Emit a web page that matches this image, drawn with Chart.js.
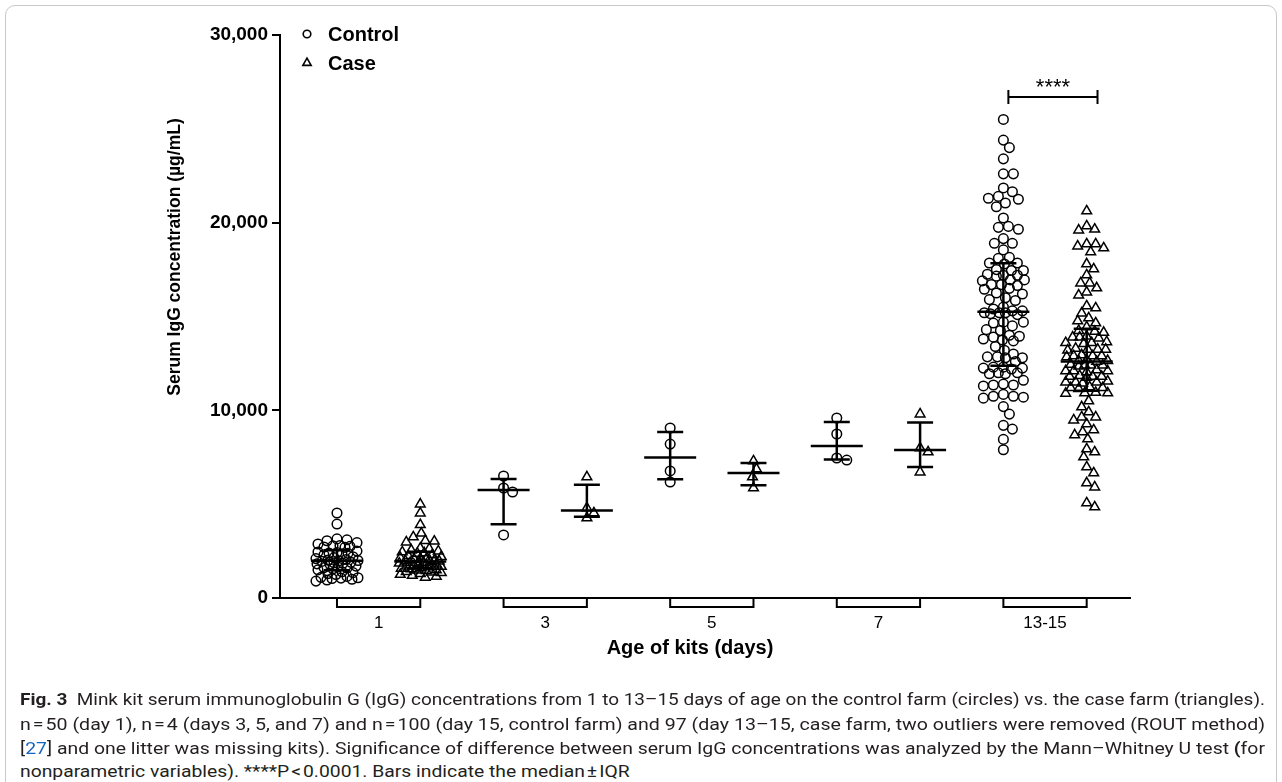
<!doctype html>
<html lang="en">
<head>
<meta charset="utf-8">
<title>Mink kit serum IgG</title>
<style>
  body { margin: 0; background: #fff; overflow: hidden; }
  #frame { position: absolute; left: 5px; top: 5px; width: 1270px; height: 800px;
           border: 1px solid #c8c8c8; border-radius: 10px; }
  #wrap { position: absolute; left: 0; top: 0; width: 1282px; height: 690px; }
  .cap { position: absolute; left: 20px; white-space: nowrap; line-height: 20px;
         font-family: Roboto, "Liberation Sans", sans-serif; font-size: 17px; color: #231f20;
         transform-origin: 0 0; }
  .cap a { color: #1565c0; text-decoration: none; }
</style>
</head>
<body>
<div id="frame"></div>
<div id="wrap"><canvas id="chart" width="1282" height="690"></canvas></div>

<div class="cap" id="c1" style="top:689px"><b>Fig. 3</b>&nbsp; Mink kit serum immunoglobulin G (IgG) concentrations from 1 to 13–15 days of age on the control farm (circles) vs. the case farm (triangles).</div>
<div class="cap" id="c2" style="top:714px">n&#8202;=&#8202;50 (day 1), n&#8202;=&#8202;4 (days 3, 5, and 7) and n&#8202;=&#8202;100 (day 15, control farm) and 97 (day 13–15, case farm, two outliers were removed (ROUT method)</div>
<div class="cap" id="c3" style="top:738px">[<a>27</a>] and one litter was missing kits). Significance of difference between serum IgG concentrations was analyzed by the Mann–Whitney U test <b>(</b>for</div>
<div class="cap" id="c4" style="top:761px">nonparametric variables). ****P&#8202;&lt;&#8202;0.0001. Bars indicate the median&#8202;±&#8202;IQR</div>

<script src="https://cdn.jsdelivr.net/npm/chart.js@4.4.1/dist/chart.umd.min.js"></script>
<script>
// values (µg/mL)
const ageGroups = ['1', '3', '5', '7', '13-15'];
const seriesNames = ['Control', 'Case'];
const significance = '****';

const controlDay1 = [4530, 3940, 3150, 3100, 3050, 2950, 2880, 2800, 2780, 2750,
  2720, 2700, 2500, 2450, 2420, 2400, 2380, 2350, 2300, 2200,
  2150, 2100, 2050, 2020, 2000, 1980, 1950, 1900, 1880, 1850,
  1820, 1800, 1700, 1650, 1620, 1600, 1560, 1500, 1400, 1350,
  1300, 1250, 1150, 1100, 1080, 1060, 1040, 1000, 960, 900];
const caseDay1 = [5000, 4520, 3900, 3450, 3250, 3050, 3020, 2980, 2650, 2620,
  2550, 2500, 2450, 2400, 2380, 2300, 2250, 2200, 2150, 2100,
  2080, 2050, 2000, 1980, 1960, 1940, 1900, 1880, 1850, 1820,
  1800, 1780, 1750, 1700, 1680, 1650, 1600, 1580, 1550, 1500,
  1480, 1450, 1400, 1380, 1350, 1300, 1250, 1200, 1150, 1100];
const controlDay3 = [6500, 5860, 5650, 3360];
const caseDay3 = [6450, 4800, 4530, 4260];
const controlDay5 = [9060, 8200, 6770, 6180];
const caseDay5 = [7300, 6870, 6450, 5860];
const controlDay7 = [9590, 8740, 7460, 7350];
const caseDay7 = [9800, 7990, 7780, 6710];
const controlDay13to15 = [25500, 24400, 24000, 23400, 22600, 22600, 21850, 21650, 21400, 21300,
  21250, 21050, 20850, 20250, 19800, 19650, 19750, 19150, 18900, 18900,
  18550, 18150, 18100, 17850, 17850, 17800, 17500, 17450, 17450, 17250,
  17200, 17200, 17150, 16950, 16900, 16950, 16700, 16650, 16700, 16500,
  16450, 16250, 16200, 16000, 15900, 15850, 15500, 15400, 15300, 15300,
  15200, 15200, 15200, 15150, 15100, 14700, 14650, 14700, 14500, 14300,
  14250, 14000, 13900, 13950, 13800, 13750, 13700, 13400, 13200, 13000,
  12850, 12800, 12850, 12800, 12600, 12300, 12250, 12200, 12250, 12300,
  12000, 11950, 11950, 12000, 11600, 11350, 11300, 11400, 11350, 10750,
  10700, 10650, 10750, 10850, 10200, 9800, 9200, 9000, 8450, 7900];
const caseDay13to15 = [20620, 19820, 19600, 19650, 18860, 18750, 18440, 18650, 18860, 17800,
  17530, 17210, 16780, 16780, 16520, 16300, 16140, 15560, 15450, 15180,
  14920, 14760, 14650, 14440,
  14250, 14200, 14150, 13950, 13900, 13900, 13850, 13650, 13600, 13600,
  13550, 13300, 13250, 13250, 13200, 13250, 12950, 12900, 12900, 12850,
  12900, 12700, 12650, 12650, 12600, 12450, 12400, 12400, 12350, 12400,
  12150, 12100, 12100, 12050, 12100, 11850, 11800, 11800, 11750, 11800,
  11550, 11500, 11500, 11450, 11500, 11250, 11200, 11150, 11200,
  10920, 10920, 10900, 10950, 10500, 10180, 9910, 9640, 9640, 9480,
  9270, 8950, 8850, 8690, 8470, 7940, 7780, 7510, 6980, 6660,
  6130, 5910, 5060, 4850];

const controlGroups = [controlDay1, controlDay3, controlDay5, controlDay7, controlDay13to15];
const caseGroups = [caseDay1, caseDay3, caseDay5, caseDay7, caseDay13to15];
const allGroups = [controlGroups, caseGroups];

// GraphPad style percentile, position (n+1)p
function quantile(vals, p) {
  const s = [...vals].sort((a, b) => a - b);
  const n = s.length;
  const pos = (n + 1) * p;
  if (pos <= 1) return s[0];
  if (pos >= n) return s[n - 1];
  const lo = Math.floor(pos);
  return s[lo - 1] + (pos - lo) * (s[lo] - s[lo - 1]);
}

// scatter-dot spread: nearest free spot to the centre line, or the least crowded one
function swarm(values, yScale, minDist, cap) {
  const order = values.map((v, i) => i).sort((a, b) => values[b] - values[a]);
  const placed = [];
  const offsets = new Array(values.length).fill(0);
  order.forEach(i => {
    const py = yScale.getPixelForValue(values[i]);
    let best = 0, bestScore = -1;
    for (let s = 0; s <= 2 * cap; s++) {
      const dx = (s % 2 ? 1 : -1) * Math.ceil(s / 2);
      let m = Infinity;
      placed.forEach(p => { m = Math.min(m, Math.hypot(p[0] - dx, p[1] - py)); });
      if (m >= minDist) { best = dx; break; }
      if (m > bestScore + 0.5) { bestScore = m; best = dx; }
    }
    placed.push([best, py]);
    offsets[i] = best;
  });
  return offsets;
}

const FONT = '"Liberation Sans", Arial, sans-serif';

function blankData(groups, side) {
  const out = [];
  groups.forEach((vals, k) => vals.forEach(v => out.push({ x: 2 * k + side, y: v })));
  return out;
}

const annotations = {
  id: 'annotations',
  afterDatasetsDraw(chart) {
    const ctx = chart.ctx, x = chart.scales.x, y = chart.scales.y;
    const base = chart.chartArea.bottom;
    ctx.save();
    ctx.strokeStyle = '#000';
    ctx.lineCap = 'butt';

    // median +/- IQR bars
    ctx.lineWidth = 2.5;
    allGroups.forEach((groups, side) => groups.forEach((vals, k) => {
      const cx = x.getPixelForValue(2 * k + side);
      const med = y.getPixelForValue(quantile(vals, 0.5));
      const q1 = y.getPixelForValue(quantile(vals, 0.25));
      const q3 = y.getPixelForValue(quantile(vals, 0.75));
      ctx.beginPath();
      ctx.moveTo(cx - 26, med); ctx.lineTo(cx + 26, med);
      ctx.moveTo(cx - 13, q1); ctx.lineTo(cx + 13, q1);
      ctx.moveTo(cx - 13, q3); ctx.lineTo(cx + 13, q3);
      ctx.moveTo(cx, q1); ctx.lineTo(cx, q3);
      ctx.stroke();
    }));

    // group brackets under the x axis
    ctx.lineWidth = 2;
    ageGroups.forEach((g, k) => {
      const a = x.getPixelForValue(2 * k), b = x.getPixelForValue(2 * k + 1);
      ctx.beginPath();
      ctx.moveTo(a, base); ctx.lineTo(a, base + 9); ctx.lineTo(b, base + 9); ctx.lineTo(b, base);
      ctx.stroke();
    });

    // significance bar, day 13-15
    const sa = x.getPixelForValue(8.06), sb = x.getPixelForValue(9.13);
    const sy = 97;
    ctx.lineWidth = 2;
    ctx.beginPath();
    ctx.moveTo(sa, sy); ctx.lineTo(sb, sy);
    ctx.moveTo(sa, sy - 7); ctx.lineTo(sa, sy + 7);
    ctx.moveTo(sb, sy - 7); ctx.lineTo(sb, sy + 7);
    ctx.stroke();
    ctx.fillStyle = '#000';
    ctx.font = '22px ' + FONT;
    ctx.textAlign = 'center';
    ctx.textBaseline = 'alphabetic';
    ctx.fillText(significance, (sa + sb) / 2, 94);

    // legend
    const styles = ['circle', 'triangle'];
    ctx.font = 'bold 20px ' + FONT;
    ctx.textAlign = 'left';
    ctx.textBaseline = 'middle';
    seriesNames.forEach((name, i) => {
      const ly = 34 + i * 29;
      ctx.fillStyle = 'rgba(0,0,0,0)';
      ctx.lineWidth = 1.6;
      Chart.helpers.drawPoint(ctx, { pointStyle: styles[i], radius: i ? 4.8 : 3.8, borderWidth: 1.6, rotation: 0 }, 307, ly);
      ctx.fillStyle = '#000';
      ctx.fillText(name, 328, ly + 1);
    });

    // axis titles
    ctx.font = 'bold 20px ' + FONT;
    ctx.textAlign = 'center';
    ctx.fillText('Age of kits (days)', 690, 648);
    ctx.save();
    ctx.translate(175, 257);
    ctx.rotate(-Math.PI / 2);
    ctx.font = 'bold 17.5px ' + FONT;
    ctx.fillText('Serum IgG concentration (µg/mL)', 0, 0);
    ctx.restore();
    ctx.restore();
  }
};

const chart = new Chart(document.getElementById('chart'), {
  type: 'scatter',
  data: {
    datasets: [
      { label: seriesNames[0], data: blankData(controlGroups, 0), pointStyle: 'circle',
        pointRadius: 4.8, pointBorderWidth: 1.5, borderColor: '#000', backgroundColor: 'rgba(0,0,0,0)' },
      { label: seriesNames[1], data: blankData(caseGroups, 1), pointStyle: 'triangle',
        pointRadius: 5.6, pointBorderWidth: 1.5, borderColor: '#000', backgroundColor: 'rgba(0,0,0,0)' }
    ]
  },
  options: {
    responsive: false,
    animation: false,
    events: [],
    layout: { padding: { left: 150, right: 152, top: 35, bottom: 0 } },
    plugins: { legend: { display: false }, tooltip: { enabled: false } },
    scales: {
      x: {
        type: 'linear', min: -0.684, max: 9.52,
        afterBuildTicks: s => { s.ticks = ageGroups.map((g, k) => ({ value: 2 * k + 0.5 })); },
        afterFit: s => { s.height = 92; },
        grid: { display: false, drawTicks: false },
        border: { display: true, color: '#000', width: 2 },
        ticks: { autoSkip: false, maxRotation: 0, padding: 15, color: '#000',
                 font: { family: FONT, size: 17 },
                 callback: (v, i) => ageGroups[i] }
      },
      y: {
        min: 0, max: 30000,
        afterFit: s => { s.width = 130; },
        grid: { display: true, drawOnChartArea: false, drawTicks: true, tickLength: 8, color: '#000', lineWidth: 2 },
        border: { display: true, color: '#000', width: 2 },
        ticks: { stepSize: 10000, padding: 4, color: '#000',
                 font: { family: FONT, size: 19, weight: 'bold' } }
      }
    }
  },
  plugins: [annotations]
});

// spread the dots sideways now that the y scale is laid out
const pxPerUnit = chart.scales.x.getPixelForValue(1) - chart.scales.x.getPixelForValue(0);
chart.data.datasets.forEach((ds, side) => {
  const pts = [];
  allGroups[side].forEach((vals, k) => {
    const offs = swarm(vals, chart.scales.y, side ? 8.5 : 9.5, 21);
    vals.forEach((v, i) => pts.push({ x: 2 * k + side + offs[i] / pxPerUnit, y: v }));
  });
  ds.data = pts;
});
chart.update('none');

// fit the caption lines to the justified width
function fitCaption() {
  const scales = [];
  ['c1', 'c2', 'c3'].forEach(id => {
    const el = document.getElementById(id);
    el.style.transform = 'none';
    const s = 1245 / el.getBoundingClientRect().width;
    el.style.transform = 'scaleX(' + s + ')';
    scales.push(s);
  });
  const avg = scales.reduce((a, b) => a + b, 0) / scales.length;
  document.getElementById('c4').style.transform = 'scaleX(' + avg + ')';
}
fitCaption();
if (document.fonts) document.fonts.ready.then(fitCaption);
</script>
</body>
</html>
